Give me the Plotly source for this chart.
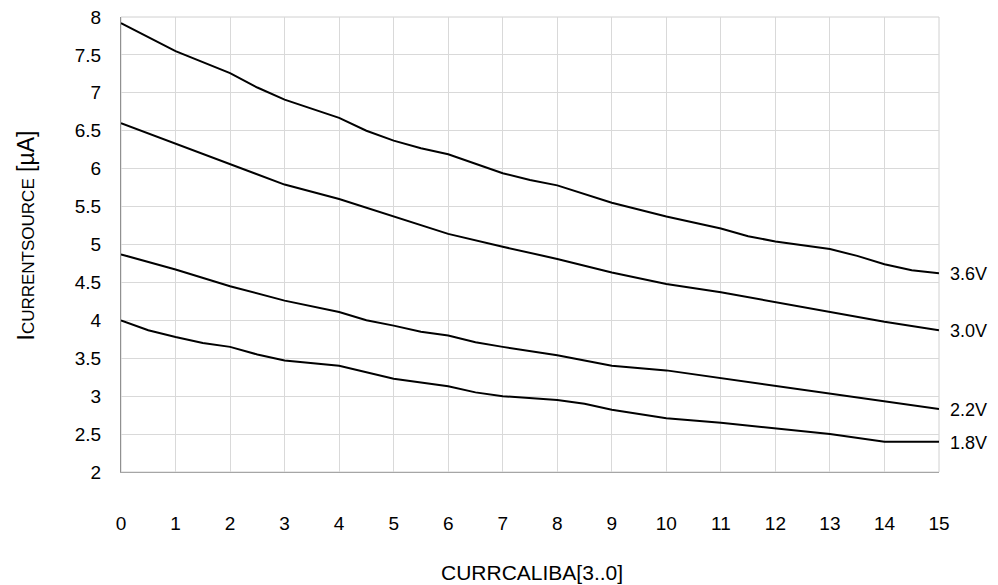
import plotly.graph_objects as go

# Data
x_36 = [0, 1, 2, 2.5, 3, 4, 4.5, 5, 5.5, 6, 7, 7.5, 8, 8.5, 9, 10, 11, 11.5, 12, 13, 13.5, 14, 14.5, 15]
y_36 = [7.92, 7.55, 7.26, 7.07, 6.91, 6.67, 6.50, 6.37, 6.27, 6.19, 5.94, 5.85, 5.78, 5.67, 5.55, 5.37, 5.21, 5.11, 5.04, 4.94, 4.85, 4.74, 4.66, 4.62]

x_30 = [0, 1, 2, 3, 4, 5, 6, 7, 8, 9, 10, 11, 12, 13, 14, 15]
y_30 = [6.60, 6.33, 6.05, 5.79, 5.60, 5.37, 5.14, 4.97, 4.81, 4.63, 4.48, 4.37, 4.24, 4.10, 3.98, 3.87]

x_22 = [0, 1, 2, 3, 4, 4.5, 5, 5.5, 6, 6.5, 7, 8, 8.5, 9, 10, 11, 12, 13, 14, 15]
y_22 = [4.87, 4.67, 4.45, 4.26, 4.11, 4.00, 3.93, 3.85, 3.80, 3.71, 3.65, 3.54, 3.47, 3.40, 3.34, 3.24, 3.13, 3.03, 2.93, 2.83]

x_18 = [0, 0.5, 1, 1.5, 2, 2.5, 3, 4, 5, 6, 6.5, 7, 8, 8.5, 9, 10, 11, 12, 13, 14, 15]
y_18 = [4.00, 3.87, 3.78, 3.70, 3.65, 3.55, 3.47, 3.40, 3.23, 3.13, 3.05, 3.00, 2.95, 2.90, 2.82, 2.71, 2.65, 2.58, 2.50, 2.40, 2.40]

series_names = ["3.6V", "3.0V", "2.2V", "1.8V"]
series = [(x_36, y_36), (x_30, y_30), (x_22, y_22), (x_18, y_18)]

x_ticks = list(range(0, 16))
y_ticks = [2, 2.5, 3, 3.5, 4, 4.5, 5, 5.5, 6, 6.5, 7, 7.5, 8]
y_tick_labels = ["2", "2.5", "3", "3.5", "4", "4.5", "5", "5.5", "6", "6.5", "7", "7.5", "8"]

FONT = "Liberation Sans, Arial, sans-serif"

fig = go.Figure()
for name, (xs, ys) in zip(series_names, series):
    fig.add_trace(go.Scatter(x=xs, y=ys, mode="lines", name=name,
                             line=dict(color="black", width=2), showlegend=False))
    fig.add_annotation(x=xs[-1], y=ys[-1], text=name, showarrow=False,
                       xanchor="left", yanchor="middle", xshift=9, yshift=-1,
                       font=dict(family=FONT, size=18, color="black"))

# page body has an 8px margin, so the figure is sized to fit the 998x585 window
fig.update_layout(
    width=990, height=577,
    margin=dict(l=113, r=59, t=9, b=113),
    paper_bgcolor="white", plot_bgcolor="white",
    font=dict(family=FONT, size=19, color="black"),
)
fig.update_xaxes(
    range=[0, 15], tickvals=x_ticks, ticktext=[str(v) for v in x_ticks],
    showgrid=True, gridcolor="#d9d9d9", gridwidth=1,
    showline=True, linecolor="#a6a6a6", linewidth=1,
    zeroline=False, ticks="", ticklabelstandoff=34, automargin=False,
    ticklabeloverflow="allow",
    tickfont=dict(family=FONT, size=19, color="black"),
)
fig.update_yaxes(
    range=[2, 8], tickvals=y_ticks, ticktext=y_tick_labels,
    showgrid=True, gridcolor="#d9d9d9", gridwidth=1,
    showline=True, linecolor="#909090", linewidth=1,
    zeroline=False, ticks="", ticklabelstandoff=15, automargin=False,
    ticklabeloverflow="allow",
    tickfont=dict(family=FONT, size=19, color="black"),
)
# thin border on top/right like the reference
fig.add_shape(type="rect", xref="paper", yref="paper", x0=0, y0=0, x1=1, y1=1,
              line=dict(color="#d0d0d0", width=1), layer="below")

# axis titles
fig.add_annotation(xref="paper", yref="paper", x=0.502, y=-0.22,
                   text="CURRCALIBA[3..0]", showarrow=False,
                   xanchor="center", yanchor="middle",
                   font=dict(family=FONT, size=21, color="black"))
fig.add_annotation(xref="paper", yref="paper", x=-0.116, y=0.52,
                   text="I<span style='font-size:17px'>CURRENTSOURCE</span> [µA]",
                   showarrow=False, textangle=-90,
                   xanchor="center", yanchor="middle",
                   font=dict(family=FONT, size=23, color="black"))

fig.write_html("out.html")
